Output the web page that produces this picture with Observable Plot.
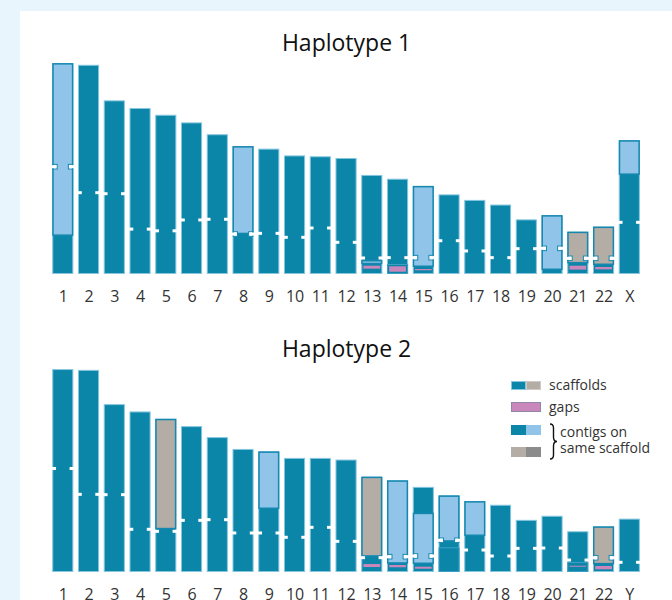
<!DOCTYPE html>
<html><head><meta charset="utf-8">
<script src="https://cdn.jsdelivr.net/npm/d3@7"></script>
<script src="https://cdn.jsdelivr.net/npm/@observablehq/plot@0.6"></script>
<style>
body{margin:0;background:#e9f5fd;font-family:"Open Sans",sans-serif;width:672px;height:600px;overflow:hidden;position:relative}
#panel{position:absolute;left:20px;top:11px;width:652px;height:589px;background:#fff;overflow:hidden}
#p1{position:absolute;left:0;top:0}
#p2{position:absolute;left:0;top:300px}
.lg{position:absolute;font-size:14px;line-height:14px;color:#333;white-space:nowrap}
.sw{position:absolute;box-sizing:border-box}
</style></head><body>
<div id="panel"><div id="p1"></div><div id="p2"></div></div>
<div id="legend"></div>
<script>
// ---- Haplotype 1 data (Mb) ----
const chroms1 = ["1","2","3","4","5","6","7","8","9","10","11","12","13","14","15","16","17","18","19","20","21","22","X"];
const lengths1 = [249, 247, 205, 196, 188, 179, 165, 151, 148, 140, 139, 137, 117, 112.5, 104, 94, 87.5, 82, 64.5, 69.5, 50, 56, 158];
const centromeres1 = [126.7, 96, 94.8, 53, 51, 63.8, 64.6, 47.2, 48, 43.3, 54.3, 37.4, 18.9, 19.3, 19.3, 39.3, 27.2, 19.3, 29.9, 30.3, 18.5, 18.5, 61];
const lightContigs1 = [["1",45,249],["8",47,151],["13",11.5,16.5],["15",8.3,104],["20",4.7,69.5],["X",117,158]];
const grayContigs1 = [["21",12.5,50],["22",10.6,56]];
const gaps1 = [["13",6.3,9.8],["14",2.7,9.1],["15",4.4,5.9],["21",5.2,9.8],["22",5.5,8.3]];
const lowerScaffolds1 = [["14",0,11.8]];

// ---- Haplotype 2 data (Mb) ----
const chroms2 = ["1","2","3","4","5","6","7","8","9","10","11","12","13","14","15","16","17","18","19","20","21","22","Y"];
const lengths2 = [249, 248, 206, 197, 188, 179, 165.5, 151, 148, 140, 140, 138, 117, 112.5, 104.5, 94, 87, 82.5, 64, 69, 50, 56, 65.5];
const centromeres2 = [127, 95.3, 94.9, 52.4, 49.9, 63.4, 64.2, 47.9, 47.9, 42.6, 54.8, 37.6, 17.6, 18.8, 19.6, 38.9, 27, 19.6, 29, 29.4, 14.7, 17.5, 11.9];
const lightContigs2 = [["9",77.3,148],["14",10.2,112.5],["15",9.8,72.8],["16",37.2,94],["17",44.2,87]];
const grayContigs2 = [["5",52.4,188],["13",18.8,117],["22",9.4,56]];
const gaps2 = [["13",6.1,9.8],["14",5.8,8.6],["15",4,6.5],["21",6.5,7.7],["22",3.3,7.4]];
const lowerScaffolds2 = [["16",0,30.3],["21",0,12.3]];

const TEAL = "#0b86a9", EDGE = "#86c6df", LIGHT = "#90c5e9", OUTLINE = "#1688b0",
      GRAY = "#b4ada6", DGRAY = "#8b8b8b", PINK = "#c987bb";

function panel({chroms, lengths, cents, light, gray, gaps, lower, height, mt, mb, title}) {
  const W = 652, ml = 27.6, mr = 27.5, pad = 0.18;
  const step = (W - ml - mr) / (chroms.length + pad);
  const bw = step * (1 - pad);
  const k = (height - mt - mb) / 250; // px per Mb
  const rows = arr => arr.map(([chrom, y1, y2]) => ({chrom, y1, y2}));
  const bars = chroms.map((c, i) => ({chrom: c, len: lengths[i]}));
  const cen = chroms.map((c, i) => ({chrom: c, y: cents[i]}));
  const outlined = rows(light.concat(gray));
  const cenOut = cen.filter(d => outlined.some(s => s.chrom === d.chrom && d.y > s.y1 && d.y < s.y2));
  const hOut = 2.3 / k, hW = 1.5 / k;
  return Plot.plot({
    width: W, height, marginLeft: ml, marginRight: mr, marginTop: mt, marginBottom: mb,
    style: {fontFamily: "'Open Sans', sans-serif", fontSize: "16px", color: "#333", background: "transparent", overflow: "visible"},
    x: {domain: chroms, padding: pad, round: false, label: null, tickSize: 0, tickPadding: 16},
    y: {domain: [0, 250], axis: null},
    marks: [
      Plot.barY(bars, {x: "chrom", y1: 0, y2: "len", fill: TEAL, stroke: EDGE, strokeWidth: 1, inset: 0.5}),
      Plot.barY(rows(lower), {x: "chrom", y1: "y1", y2: "y2", fill: TEAL, stroke: "#3f9fc2", strokeWidth: 1, inset: 0.5}),
      Plot.barY(rows(light), {x: "chrom", y1: "y1", y2: "y2", fill: LIGHT, stroke: OUTLINE, strokeWidth: 1.5, inset: 0.75}),
      Plot.barY(rows(gray), {x: "chrom", y1: "y1", y2: "y2", fill: GRAY, stroke: OUTLINE, strokeWidth: 1.5, inset: 0.75}),
      Plot.barY(rows(gaps), {x: "chrom", y1: "y1", y2: "y2", fill: PINK, insetLeft: 2.2, insetRight: 2.2}),
      Plot.barY(cenOut, {x: "chrom", y1: d => d.y - hOut, y2: d => d.y + hOut, fill: "white", stroke: OUTLINE, strokeWidth: 1, insetLeft: 0.75, insetRight: bw - 5}),
      Plot.barY(cenOut, {x: "chrom", y1: d => d.y - hOut, y2: d => d.y + hOut, fill: "white", stroke: OUTLINE, strokeWidth: 1, insetLeft: bw - 5, insetRight: 0.75}),
      Plot.barY(cen, {x: "chrom", y1: d => d.y - hW, y2: d => d.y + hW, fill: "white", insetLeft: -2, insetRight: bw - 3.8}),
      Plot.barY(cen, {x: "chrom", y1: d => d.y - hW, y2: d => d.y + hW, fill: "white", insetLeft: bw - 3.8, insetRight: -2}),
      Plot.text([title], {frameAnchor: "top", dy: -19.5, lineAnchor: "middle", fontSize: 23, fill: "#111"})
    ]
  });
}

document.getElementById("p1").append(panel({
  chroms: chroms1, lengths: lengths1, cents: centromeres1, light: lightContigs1, gray: grayContigs1,
  gaps: gaps1, lower: lowerScaffolds1, height: 300, mt: 51.25, mb: 37, title: "Haplotype 1"
}));
document.getElementById("p2").append(panel({
  chroms: chroms2, lengths: lengths2, cents: centromeres2, light: lightContigs2, gray: grayContigs2,
  gaps: gaps2, lower: lowerScaffolds2, height: 289, mt: 57.25, mb: 28, title: "Haplotype 2"
}));

// ---- legend (HTML) ----
const legendItems = ["scaffolds", "gaps", "contigs on", "same scaffold"];
const lg = document.getElementById("legend");
lg.innerHTML = `
  <div class="sw" style="left:511px;top:381px;width:15px;height:9px;background:${TEAL};border:1px solid ${EDGE}"></div>
  <div class="sw" style="left:526px;top:381px;width:15px;height:9px;background:${GRAY};border:1px solid #cfcac4"></div>
  <div class="lg" style="left:549px;top:378px">${legendItems[0]}</div>
  <div class="sw" style="left:511px;top:402px;width:30px;height:10px;background:${PINK};border:1.5px solid #8f86a8"></div>
  <div class="lg" style="left:549px;top:400px">${legendItems[1]}</div>
  <div class="sw" style="left:511px;top:425px;width:15px;height:10px;background:${TEAL}"></div>
  <div class="sw" style="left:526px;top:425px;width:15px;height:10px;background:${LIGHT}"></div>
  <div class="sw" style="left:511px;top:447px;width:15px;height:10px;background:${GRAY}"></div>
  <div class="sw" style="left:526px;top:447px;width:15px;height:10px;background:${DGRAY}"></div>
  <svg style="position:absolute;left:548px;top:422px" width="12" height="40">
    <path d="M2,2 Q5.5,2 5.5,6 L5.5,15 Q5.5,19.5 9,19.5 Q5.5,19.5 5.5,24 L5.5,33 Q5.5,37 2,37" fill="none" stroke="#111" stroke-width="1.4"/>
  </svg>
  <div class="lg" style="left:560px;top:425px">${legendItems[2]}</div>
  <div class="lg" style="left:560px;top:441px">${legendItems[3]}</div>
`;
</script>
</body></html>
